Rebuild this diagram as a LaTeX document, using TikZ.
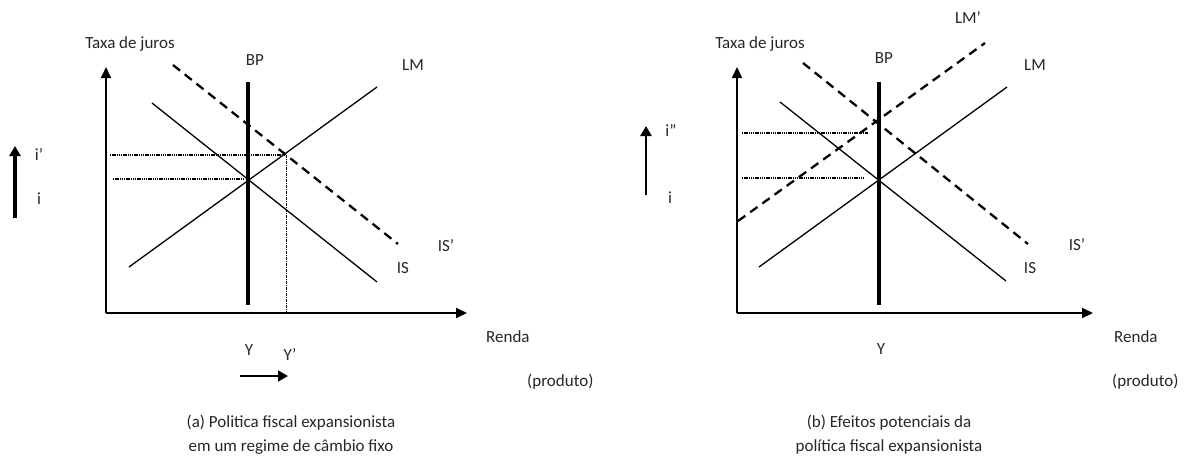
\documentclass[tikz,border=0pt]{standalone}
\usepackage{fontspec}
\setmainfont{Carlito}
\usetikzlibrary{arrows.meta}
\tikzset{
    axisline/.style={draw, line width=1.8pt, -{Triangle[length=11pt,width=10pt]}},
    bpline/.style={draw, line width=3.4pt},
    curveline/.style={draw, line width=1.3pt},
    shiftline/.style={draw, line width=2.3pt, dash pattern=on 9pt off 6pt},
    guideline/.style={draw, line width=1.6pt, dash pattern=on 1.3pt off 0.9pt},
    dropline/.style={draw, line width=0.9pt, dash pattern=on 3pt off 1pt on 1pt off 1pt},
    movearrow/.style={draw, -{Triangle[length=10pt,width=11pt]}},
    lbl/.style={inner sep=0pt, font=\fontsize{17}{20}\selectfont, text=black!85},
    caption/.style={lbl, align=center, font=\fontsize{17}{24}\selectfont}
}

\begin{document}
\begin{tikzpicture}[x=1pt, y=-1pt]
    \useasboundingbox (0,0) rectangle (1193,460);

    % (a) regime de cambio fixo
    \coordinate (oa) at (106,313);
    \coordinate (ya) at (106,67);
    \coordinate (xa) at (467,313);
    \draw[axisline] (oa) -- (ya);
    \draw[axisline] (oa) -- (xa);
    \coordinate (bpa1) at (248,82);
    \coordinate (bpa2) at (248,305);
    \draw[bpline] (bpa1) -- (bpa2);
    \coordinate (lma1) at (129,267);
    \coordinate (lma2) at (377,87);
    \draw[curveline] (lma1) -- (lma2);
    \coordinate (isa1) at (152,103);
    \coordinate (isa2) at (377,282);
    \draw[curveline] (isa1) -- (isa2);
    \coordinate (isna1) at (173,65);
    \coordinate (isna2) at (398,244);
    \draw[shiftline] (isna1) -- (isna2);
    \coordinate (ea) at (245,179);
    \coordinate (ena) at (286,155);
    \coordinate (ia) at (113,179);
    \coordinate (ina) at (110,155);
    \coordinate (yna) at (286,313);
    \draw[guideline] (ina) -- (ena);
    \draw[guideline] (ia) -- (ea);
    \draw[dropline] (ena) -- (yna);
    \coordinate (upa1) at (15,218);
    \coordinate (upa2) at (15,146);
    \draw[movearrow, line width=4pt] (upa1) -- (upa2);
    \coordinate (ra1) at (240,376);
    \coordinate (ra2) at (288,376);
    \draw[movearrow, line width=1.8pt] (ra1) -- (ra2);

    \node[lbl] (taxa) at (130,44) {Taxa de juros};
    \node[lbl] (bpla) at (255,60) {BP};
    \node[lbl] (lmla) at (413,65) {LM};
    \node[lbl] (isnla) at (446,246) {IS'};
    \node[lbl] (isla) at (403,268) {IS};
    \node[lbl] (inla) at (39,155) {i'};
    \node[lbl] (ila) at (39,199) {i};
    \node[lbl] (yla) at (249,350) {Y};
    \node[lbl] (ynla) at (290,355) {Y'};
    \node[lbl, anchor=west] (renda) at (486,337) {Renda};
    \node[lbl, anchor=west] (produto) at (527,382) {(produto)};
    \node[caption] (capa) at (291,435) {(a) Politica fiscal expansionista\\em um regime de câmbio fixo};

    % (b) efeitos potenciais
    \coordinate (ob) at (737,313);
    \coordinate (yb) at (737,67);
    \coordinate (xb) at (1093,313);
    \draw[axisline] (ob) -- (yb);
    \draw[axisline] (ob) -- (xb);
    \coordinate (bpb1) at (879,82);
    \coordinate (bpb2) at (879,305);
    \draw[bpline] (bpb1) -- (bpb2);
    \coordinate (lmb1) at (759,267);
    \coordinate (lmb2) at (1007,87);
    \draw[curveline] (lmb1) -- (lmb2);
    \coordinate (lmnb1) at (738,221);
    \coordinate (lmnb2) at (985,43);
    \draw[shiftline] (lmnb1) -- (lmnb2);
    \coordinate (isb1) at (780,102);
    \coordinate (isb2) at (1006,281);
    \draw[curveline] (isb1) -- (isb2);
    \coordinate (isnb1) at (803,63);
    \coordinate (isnb2) at (1028,244);
    \draw[shiftline] (isnb1) -- (isnb2);
    \coordinate (ib1) at (742,178);
    \coordinate (ib2) at (865,178);
    \coordinate (inb1) at (742,133);
    \coordinate (inb2) at (868,133);
    \draw[guideline] (inb1) -- (inb2);
    \draw[guideline] (ib1) -- (ib2);
    \coordinate (upb1) at (646,195);
    \coordinate (upb2) at (646,126);
    \draw[movearrow, line width=2.6pt] (upb1) -- (upb2);

    \node[lbl] (taxb) at (760,44) {Taxa de juros};
    \node[lbl] (bplb) at (884,58) {BP};
    \node[lbl] (lmlb) at (1035,65) {LM};
    \node[lbl] (lmnlb) at (968,18) {LM'};
    \node[lbl] (isnlb) at (1077,245) {IS'};
    \node[lbl] (islb) at (1030,268) {IS};
    \node[lbl] (inlb) at (671,131) {i''};
    \node[lbl] (ilb) at (670,198) {i};
    \node[lbl] (ylb) at (881,349) {Y};
    \node[lbl, anchor=west] (rendb) at (1114,337) {Renda};
    \node[lbl, anchor=west] (prodb) at (1112,382) {(produto)};
    \node[caption] (capb) at (889,435) {(b) Efeitos potenciais da\\política fiscal expansionista};
\end{tikzpicture}
\end{document}
